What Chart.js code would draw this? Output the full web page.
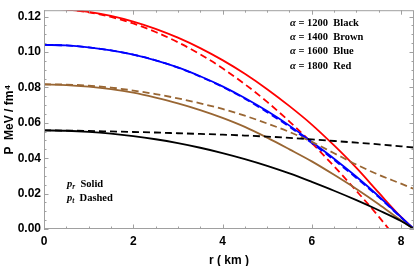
<!DOCTYPE html>
<html lang="en">
<head>
  <meta charset="UTF-8">
  <title>Pressure profiles</title>
  <script src="https://cdn.jsdelivr.net/npm/chart.js"></script>
  <style>
    html, body { margin: 0; padding: 0; background: #fff; }
    canvas { display: block; }
  </style>
</head>
<body>
  <canvas id="pressureChart" width="415" height="266"></canvas>

  <script>
    // radius in km, pressures in MeV/fm^4
    const radius = [0, 0.5, 1, 1.5, 2, 2.5, 3, 3.5, 4, 4.5, 5, 5.5, 6, 6.5, 7, 7.5, 8, 8.29];

    const pr1200 = [0.0557, 0.0555, 0.0549, 0.0539, 0.0525, 0.0507, 0.0485, 0.0459, 0.0429, 0.0395, 0.0357, 0.0314, 0.0266, 0.0216, 0.0163, 0.0106, 0.0045, 0];
    const pt1200 = [0.0557, 0.0556, 0.0554, 0.0551, 0.0548, 0.0545, 0.0541, 0.0537, 0.0533, 0.0528, 0.0522, 0.0515, 0.0506, 0.0497, 0.0488, 0.0478, 0.0467, 0.0460];
    const pr1400 = [0.0816, 0.0813, 0.0804, 0.0790, 0.0770, 0.0742, 0.0710, 0.0672, 0.0628, 0.0577, 0.0516, 0.0450, 0.0382, 0.0306, 0.0226, 0.0140, 0.0048, 0];
    const pt1400 = [0.0818, 0.0816, 0.0810, 0.0799, 0.0782, 0.0762, 0.0738, 0.0710, 0.0678, 0.0640, 0.0596, 0.0548, 0.0492, 0.0428, 0.0364, 0.0306, 0.0256, 0.0226];
    const pr1600 = [0.1040, 0.1037, 0.1026, 0.1009, 0.0985, 0.0953, 0.0913, 0.0863, 0.0806, 0.0740, 0.0666, 0.0584, 0.0492, 0.0397, 0.0295, 0.0185, 0.0067, 0];
    const pt1600 = [0.1040, 0.1037, 0.1026, 0.1009, 0.0985, 0.0953, 0.0912, 0.0861, 0.0803, 0.0736, 0.0660, 0.0577, 0.0485, 0.0390, 0.0288, 0.0180, 0.0065, 0];
    const pr1800 = [0.1245, 0.1240, 0.1227, 0.1204, 0.1172, 0.1131, 0.1081, 0.1022, 0.0954, 0.0877, 0.0790, 0.0694, 0.0590, 0.0472, 0.0345, 0.0205, 0.0068, 0];
    const pt1800 = [0.1245, 0.1240, 0.1224, 0.1198, 0.1161, 0.1113, 0.1055, 0.0987, 0.0908, 0.0818, 0.0718, 0.0607, 0.0486, 0.0354, 0.0215, 0.0070, -0.0090, -0.0190];

    const xTicks = [0, 2, 4, 6, 8];
    const yTicks = [0, 0.02, 0.04, 0.06, 0.08, 0.10, 0.12];
    const alphaNotes = ['1200  Black', '1400  Brown', '1600  Blue', '1800  Red'];

    const BROWN = '#996633';
    const sans = 'Liberation Sans, Arial, sans-serif';
    const serif = 'Liberation Serif, Times New Roman, serif';

    function pts(values) {
      return radius.map((r, i) => ({ x: r, y: values[i] }));
    }

    function line(values, color, dashed) {
      return {
        data: pts(values),
        borderColor: color,
        borderWidth: 1.8,
        borderDash: dashed ? [7, 4] : [],
        pointRadius: 0,
        fill: false,
        cubicInterpolationMode: 'monotone'
      };
    }

    // frame with inward ticks on all four sides
    const framePlugin = {
      id: 'frame',
      afterDatasetsDraw(chart) {
        const { ctx, chartArea: a, scales: { x, y } } = chart;
        ctx.save();
        ctx.strokeStyle = '#a0a0a0';
        ctx.lineWidth = 1;
        ctx.strokeRect(a.left + 0.5, a.top + 0.5, a.right - a.left - 1, a.bottom - a.top - 1);
        ctx.beginPath();
        for (let i = 0; i <= 16; i++) {
          const px = Math.round(x.getPixelForValue(i * 0.5)) + 0.5;
          const len = i % 4 === 0 ? 4.5 : 2.5;
          ctx.moveTo(px, a.bottom); ctx.lineTo(px, a.bottom - len);
          ctx.moveTo(px, a.top); ctx.lineTo(px, a.top + len);
        }
        for (let i = 0; i <= 24; i++) {
          const py = Math.round(y.getPixelForValue(i * 0.005)) + 0.5;
          const len = i % 4 === 0 ? 4.5 : 2.5;
          ctx.moveTo(a.left, py); ctx.lineTo(a.left + len, py);
          ctx.moveTo(a.right, py); ctx.lineTo(a.right - len, py);
        }
        ctx.stroke();
        ctx.restore();
      }
    };

    function drawRuns(ctx, x, y, runs) {
      runs.forEach(run => {
        ctx.font = run.font;
        ctx.fillText(run.text, x, y + (run.dy || 0));
        x += ctx.measureText(run.text).width;
      });
    }

    const notesPlugin = {
      id: 'notes',
      afterDraw(chart) {
        const ctx = chart.ctx;
        ctx.save();
        ctx.fillStyle = '#000';
        ctx.textBaseline = 'alphabetic';
        const bold = 'bold 10.5px ' + serif;
        const ital = 'italic bold 10.5px ' + serif;
        const sub = 'italic bold 7.5px ' + serif;
        alphaNotes.forEach((t, i) => {
          drawRuns(ctx, 290, 25.5 + i * 14.4, [
            { text: 'α', font: ital },
            { text: ' = ' + t, font: bold }
          ]);
        });
        drawRuns(ctx, 67, 186.5, [
          { text: 'p', font: ital }, { text: 'r', font: sub, dy: 2 }, { text: '  Solid', font: bold }
        ]);
        drawRuns(ctx, 67, 200.5, [
          { text: 'p', font: ital }, { text: 't', font: sub, dy: 2 }, { text: '  Dashed', font: bold }
        ]);
        ctx.restore();
      }
    };

    new Chart(document.getElementById('pressureChart'), {
      type: 'line',
      data: {
        datasets: [
          line(pr1200, '#000000', false),
          line(pt1200, '#000000', true),
          line(pr1400, BROWN, false),
          line(pt1400, BROWN, true),
          line(pr1600, '#0000ff', false),
          line(pt1600, '#0000ff', true),
          line(pr1800, '#ff0000', false),
          line(pt1800, '#ff0000', true)
        ]
      },
      options: {
        responsive: false,
        animation: false,
        devicePixelRatio: 1,
        layout: { padding: { top: 1, right: 1, left: 0, bottom: 0 } },
        plugins: { legend: { display: false }, tooltip: { enabled: false } },
        scales: {
          x: {
            type: 'linear',
            min: 0,
            max: 8.29,
            grid: { display: false, drawTicks: false },
            border: { display: false },
            afterBuildTicks: s => { s.ticks = xTicks.map(v => ({ value: v })); },
            afterFit: s => { s.height = 37; },
            ticks: {
              color: '#000',
              padding: 5,
              maxRotation: 0,
              font: { family: sans, size: 12, weight: 'bold' },
              callback: v => String(v)
            },
            title: {
              display: true,
              text: 'r ( km )',
              color: '#000',
              font: { family: sans, size: 12, weight: 'bold', lineHeight: 1 },
              padding: { top: 0, bottom: -1 }
            }
          },
          y: {
            min: 0,
            max: 0.1236,
            grid: { display: false, drawTicks: false },
            border: { display: false },
            afterBuildTicks: s => { s.ticks = yTicks.map(v => ({ value: v })); },
            afterFit: s => { s.width = 44; },
            ticks: {
              color: '#000',
              padding: 3,
              font: { family: sans, size: 12, weight: 'bold' },
              callback: v => v.toFixed(2)
            },
            title: {
              display: true,
              text: 'P  MeV / fm⁴',
              color: '#000',
              font: { family: sans, size: 12, weight: 'bold', lineHeight: 1.2 },
              padding: { top: 2, bottom: 0 }
            }
          }
        }
      },
      plugins: [framePlugin, notesPlugin]
    });
  </script>
</body>
</html>
